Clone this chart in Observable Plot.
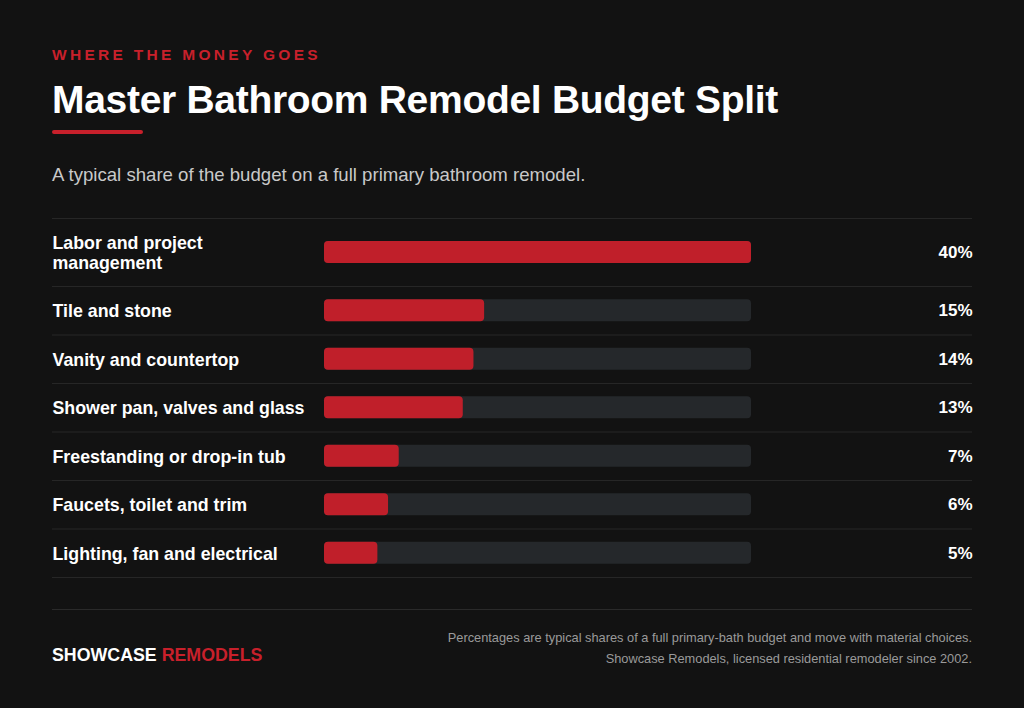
<!DOCTYPE html>
<html>
<head>
<meta charset="utf-8">
<script src="https://cdn.jsdelivr.net/npm/d3@7"></script>
<script src="https://cdn.jsdelivr.net/npm/@observablehq/plot@0.6"></script>
<style>
  html, body { margin: 0; padding: 0; background: #121212; }
  body { width: 1024px; height: 708px; position: relative; overflow: hidden; font-family: "Liberation Sans", Arial, Helvetica, sans-serif; color: #fff; }
  .kicker { position: absolute; left: 52px; top: 46px; font-size: 15.5px; font-weight: 700; letter-spacing: 3.3px; color: #c8202b; }
  .title { position: absolute; left: 52px; top: 78px; font-size: 39px; font-weight: 700; color: #fff; letter-spacing: -0.3px; }
  .underline { position: absolute; left: 52px; top: 130px; width: 91px; height: 4px; border-radius: 2px; background: #c8202b; }
  .subtitle { position: absolute; left: 52px; top: 164px; font-size: 18.6px; color: #c9c9c9; }
  #chart { position: absolute; left: 0; top: 217px; }
  .rule { position: absolute; left: 52px; top: 609px; width: 920px; height: 1px; background: #2a2a2a; }
  .brand { position: absolute; left: 52px; top: 645px; font-size: 17.8px; font-weight: 700; color: #fff; }
  .brand span { color: #c8202b; }
  .note { position: absolute; right: 52px; top: 627px; text-align: right; font-size: 12.8px; line-height: 21px; color: #9a9a9a; }
</style>
</head>
<body>
<div class="kicker">WHERE THE MONEY GOES</div>
<div class="title">Master Bathroom Remodel Budget Split</div>
<div class="underline"></div>
<div class="subtitle">A typical share of the budget on a full primary bathroom remodel.</div>
<div id="chart"></div>
<div class="rule"></div>
<div class="brand">SHOWCASE <span>REMODELS</span></div>
<div class="note">Percentages are typical shares of a full primary-bath budget and move with material choices.<br>Showcase Remodels, licensed residential remodeler since 2002.</div>
<script>
const categories = [
  "Labor and project\nmanagement",
  "Tile and stone",
  "Vanity and countertop",
  "Shower pan, valves and glass",
  "Freestanding or drop-in tub",
  "Faucets, toilet and trim",
  "Lighting, fan and electrical"
];
const shares = [40, 15, 14, 13, 7, 6, 5];
const trackMax = 40;

const ROW = 48.5, LINE = 19.5, BAR = 22;
let cursor = 0;
const rows = categories.map((c, i) => {
  const lines = c.split("\n").length;
  const h = ROW + (lines - 1) * LINE;
  const r = { category: c, share: shares[i], top: cursor, bottom: cursor + h, mid: cursor + h / 2 };
  cursor += h;
  return r;
});
const boundaries = [0, ...rows.map(r => r.bottom)];

const RED = "#c01f2a", TRACK = "#25282b";
const chart = Plot.plot({
  width: 1024,
  height: cursor + 2,
  marginLeft: 324,
  marginRight: 273,
  marginTop: 1,
  marginBottom: 1,
  style: { background: "transparent", fontFamily: "'Liberation Sans', Arial, sans-serif", overflow: "visible" },
  x: { domain: [0, trackMax], axis: null },
  y: { domain: [0, cursor], range: [1, 1 + cursor], axis: null },
  marks: [
    Plot.ruleY(boundaries, { y: d => d, stroke: "#262626", strokeWidth: 1, insetLeft: -272, insetRight: -221 }),
    Plot.rect(rows, { x1: 0, x2: trackMax, y1: d => d.mid - BAR / 2, y2: d => d.mid + BAR / 2, fill: TRACK, rx: 4 }),
    Plot.rect(rows, { x1: 0, x2: "share", y1: d => d.mid - BAR / 2, y2: d => d.mid + BAR / 2, fill: RED, rx: 4 }),
    Plot.text(rows, { y: "mid", text: "category", frameAnchor: "left", textAnchor: "start", dx: -272, fill: "#fff", fontSize: 17.8, fontWeight: 700, lineHeight: 1.1 }),
    Plot.text(rows, { y: "mid", text: d => d.share + "%", frameAnchor: "right", textAnchor: "end", dx: 221, fill: "#fff", fontSize: 17, fontWeight: 700 })
  ]
});
document.getElementById("chart").appendChild(chart);
</script>
</body>
</html>
